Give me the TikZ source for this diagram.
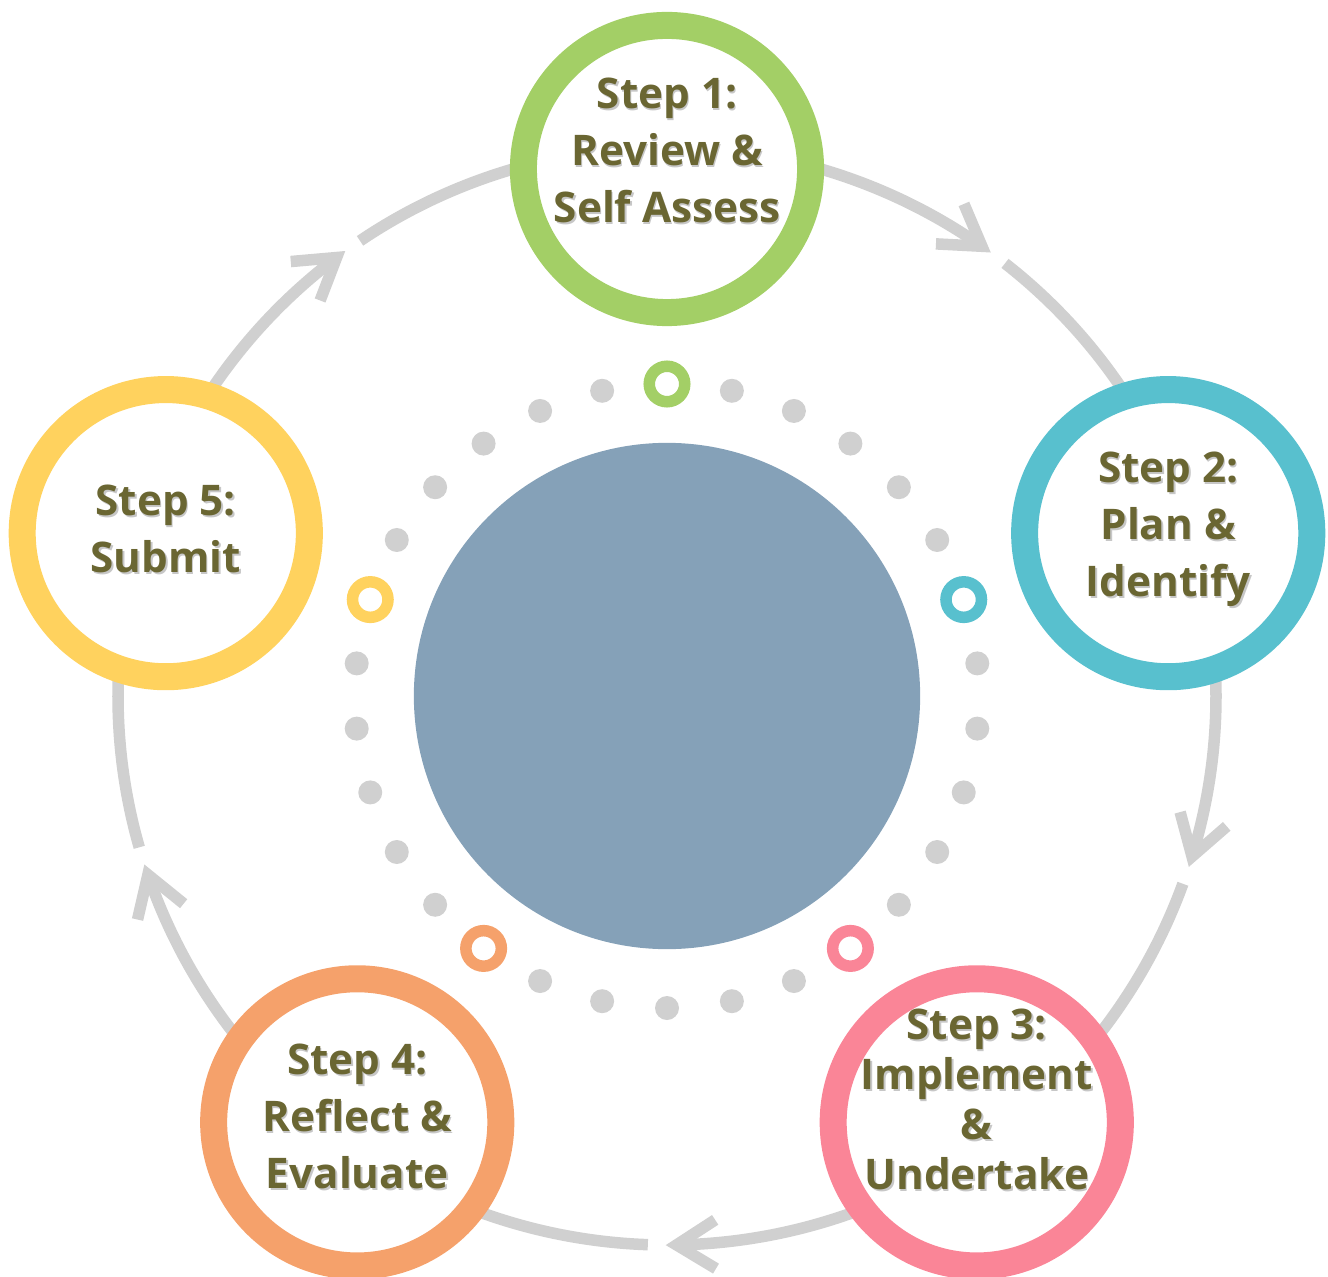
\documentclass[tikz,border=0pt]{standalone}
\usepackage{fontspec}
\setmainfont{Open Sans}
\usetikzlibrary{calc}

\definecolor{stepgreen}{HTML}{A3CF66}
\definecolor{stepcyan}{HTML}{58C0CE}
\definecolor{steppink}{HTML}{FA8597}
\definecolor{steporange}{HTML}{F5A16B}
\definecolor{stepyellow}{HTML}{FFD25E}
\definecolor{hubblue}{HTML}{85A1B8}
\definecolor{linkgray}{HTML}{D0D0D0}
\definecolor{olive}{HTML}{6A6632}

\tikzset{
  ring/.style={circle, draw, line width=0.27cm, fill=white, minimum size=2.87cm, inner sep=0pt},
  marker/.style={circle, draw, line width=0.115cm, fill=white, minimum size=0.355cm, inner sep=0pt},
  link/.style={draw=linkgray, line width=0.115cm},
  barb/.style={draw=linkgray, line width=0.115cm, line join=miter},
  steptext/.style={align=center, text=olive, font=\bfseries\fontsize{12pt}{16.2pt}\selectfont},
  shadowtext/.style={steptext, text=black, text opacity=0.22},
}

\begin{document}
\begin{tikzpicture}[x=0.01cm, y=0.01cm]

\useasboundingbox (-667,-580) rectangle (661,696);

% Grey arcs round the cycle, broken after each arrow head
\foreach \a [evaluate=\a as \tip using \a-35,
             evaluate=\a as \back using \a-38,
             evaluate=\a as \stop using \a-72] in {90,18,-54,-126,162} {
  \draw [link] (\a:549) arc [start angle=\a, end angle=\tip, radius=549] coordinate (head);
  \draw [barb] ($(head)+(\tip+122:46)$) -- (head) -- ($(head)+(\tip+58:46)$);
  \draw [link] (\back:549) arc [start angle=\back, end angle=\stop, radius=549];
}

% The five steps and their small markers on the dotted ring
\foreach \n/\ang/\col in {1/90/stepgreen, 2/18/stepcyan, 3/-54/steppink,
                          4/-126/steporange, 5/162/stepyellow} {
  \node [ring, draw=\col] (s\n) at (\ang:527) {};
  \node [marker, draw=\col] (m\n) at (\ang:312) {};
}

% Grey dots between the markers
\foreach \p in {90,18,-54,-126,162}
  \foreach \d in {12,24,36,48,60}
    \fill [linkgray] (\p+\d:312) circle (12);

% Centre disc
\node [circle, fill=hubblue, minimum size=5.06cm, inner sep=0pt] (hub) at (0,0) {};

% Step labels
\foreach \n/\dy/\txt in {1/19/{Step 1:\\Review \&\\Self Assess},
                         2/4/{Step 2:\\Plan \&\\Identify},
                         4/6/{Step 4:\\Reflect \&\\Evaluate},
                         5/4/{Step 5:\\Submit}} {
  \node [shadowtext] (ts\n) at ($(s\n)+(1.5,\dy-2)$) {\txt};
  \node [steptext] (t\n) at ($(s\n)+(0,\dy)$) {\txt};
}
\node [shadowtext, font=\bfseries\fontsize{12pt}{14.2pt}\selectfont] (ts3)
  at ($(s3)+(1.5,21)$) {Step 3:\\Implement\\\&\\Undertake};
\node [steptext, font=\bfseries\fontsize{12pt}{14.2pt}\selectfont] (t3)
  at ($(s3)+(0,23)$) {Step 3:\\Implement\\\&\\Undertake};

\end{tikzpicture}
\end{document}
